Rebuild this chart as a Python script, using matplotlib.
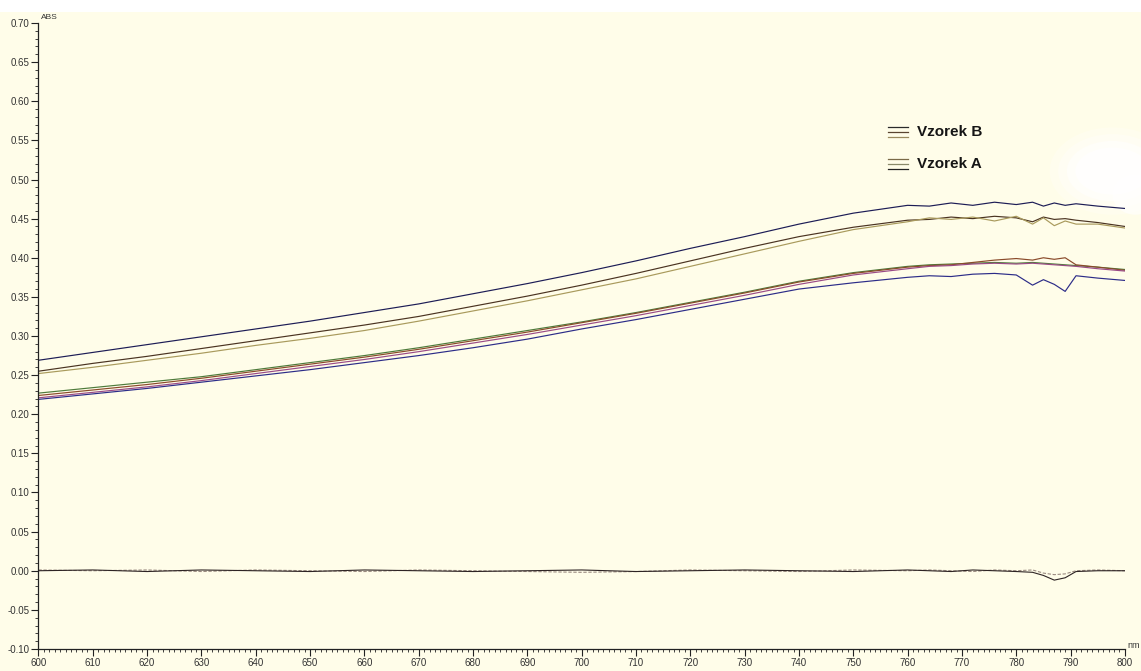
import matplotlib
matplotlib.use('Agg')
import numpy as np
import matplotlib.pyplot as plt
from matplotlib.patches import Ellipse, Rectangle
from matplotlib.ticker import MultipleLocator, FormatStrFormatter

plt.rcParams['font.family'] = ['Liberation Sans', 'DejaVu Sans']

CREAM = '#fffde9'

# wavelength grid (nm), denser where the spectra get noisy
wl = [600, 610, 620, 630, 640, 650, 660, 670, 680, 690, 700, 710, 720, 730, 740,
      750, 760, 764, 768, 772, 776, 780, 783, 785, 787, 789, 791, 795, 800]

# sample B – three repeat scans
b_scan1 = [.269, .279, .289, .299, .309, .319, .330, .341, .354, .367, .381, .396, .412, .427, .443,
           .457, .467, .466, .470, .467, .471, .468, .471, .466, .470, .467, .469, .466, .463]
b_scan2 = [.255, .265, .274, .284, .294, .304, .314, .325, .338, .351, .365, .380, .396, .412, .427,
           .439, .448, .449, .452, .450, .453, .451, .446, .452, .449, .450, .448, .445, .440]
b_scan3 = [.252, .260, .269, .278, .288, .297, .307, .319, .332, .345, .359, .373, .389, .405, .421,
           .436, .446, .451, .449, .452, .447, .453, .443, .451, .441, .447, .443, .443, .438]

# sample A – four repeat scans
a_scan1 = [.227, .234, .241, .248, .257, .266, .275, .285, .296, .307, .318, .330, .343, .356, .370,
           .381, .389, .391, .392, .393, .394, .393, .394, .393, .392, .391, .390, .388, .385]
a_scan2 = [.224, .231, .238, .246, .255, .264, .273, .283, .294, .305, .317, .329, .342, .355, .369,
           .380, .388, .390, .391, .394, .397, .399, .397, .400, .398, .400, .391, .388, .384]
a_scan3 = [.221, .228, .235, .243, .252, .261, .270, .280, .291, .302, .314, .326, .339, .352, .366,
           .378, .386, .389, .390, .392, .393, .392, .393, .392, .391, .390, .389, .386, .383]
a_scan4 = [.219, .226, .233, .241, .249, .257, .266, .275, .285, .296, .309, .321, .334, .347, .360,
           .368, .375, .377, .376, .379, .380, .378, .365, .372, .366, .357, .377, .374, .371]

# difference traces around zero
diff1 = [0, .001, -.001, .001, 0, -.001, .001, 0, -.001, 0, .001, -.001, 0, .001, 0,
         -.001, .001, 0, -.001, .001, 0, -.001, -.002, -.006, -.012, -.009, -.001, 0, 0]
diff2 = [.001, 0, .001, -.001, .001, 0, -.001, .001, 0, -.001, -.002, -.001, .001, 0, -.001,
         .001, 0, .001, 0, -.001, .001, 0, .001, -.003, -.005, -.004, 0, .001, 0]

b_colors = ['#1c1c55', '#4a3321', '#a99a5c']
a_colors = ['#4d7a3a', '#8a4a2a', '#9a4a86', '#2c2c88']

fig = plt.figure(figsize=(11.41, 6.71), dpi=100, facecolor=CREAM)
fig.patches.append(Rectangle((0, 0.982), 1, 0.02, transform=fig.transFigure,
                             facecolor='white', edgecolor='none', zorder=-2))

# washed-out patch at the upper right, built up from soft layers (kept under the traces)
for w, h, a in [(0.11, 0.13, 0.25), (0.095, 0.11, 0.35), (0.08, 0.09, 0.5), (0.065, 0.07, 0.7)]:
    fig.patches.append(Ellipse((0.975, 0.745), w, h, transform=fig.transFigure,
                               facecolor='white', edgecolor='none', alpha=a, zorder=-1))
fig.patches.append(Ellipse((0.995, 0.71), 0.04, 0.06, transform=fig.transFigure,
                           facecolor='white', edgecolor='none', alpha=0.6, zorder=-1))

ax = fig.add_axes([0.0337, 0.0328, 0.9522, 0.9329])
ax.set_facecolor('none')

for ys, c in zip([b_scan1, b_scan2, b_scan3], b_colors):
    ax.plot(wl, ys, color=c, lw=0.85)
for ys, c in zip([a_scan1, a_scan2, a_scan3, a_scan4], a_colors):
    ax.plot(wl, ys, color=c, lw=0.85)
ax.plot(wl, diff2, color='#9a8a80', lw=0.8, ls=(0, (3, 1.5)))
ax.plot(wl, diff1, color='#2e2424', lw=0.8)

ax.set_xlim(600, 800)
ax.set_ylim(-0.10, 0.70)
for s in ['top', 'right']:
    ax.spines[s].set_visible(False)
for s in ['left', 'bottom']:
    ax.spines[s].set_linewidth(0.9)
    ax.spines[s].set_color('#222222')

ax.xaxis.set_major_locator(MultipleLocator(10))
ax.xaxis.set_minor_locator(MultipleLocator(1))
ax.yaxis.set_major_locator(MultipleLocator(0.05))
ax.yaxis.set_minor_locator(MultipleLocator(0.01))
ax.yaxis.set_major_formatter(FormatStrFormatter('%.2f'))
ax.tick_params(axis='both', which='major', direction='out', length=5, width=0.8,
               color='#222222', labelsize=7, labelcolor='#333333', pad=1.5)
ax.tick_params(axis='both', which='minor', direction='out', length=2, width=0.6,
               color='#222222')

ax.text(0.002, 1.004, 'ABS', transform=ax.transAxes, fontsize=6, color='#333333',
        va='bottom', ha='left')
fig.text(0.988, 0.031, 'nm', fontsize=6.5, color='#333333', va='bottom', ha='left')

# legend: three-line glyphs next to bold labels
legend_items = [('Vzorek B', 0.826, ['#2a2a2a', '#5a4530', '#9a8a5e']),
                ('Vzorek A', 0.775, ['#7a6a48', '#8a8a6a', '#222222'])]
for label, yf, cols in legend_items:
    for off, c in zip([0.008, 0.0, -0.008], cols):
        ax.plot([0.782, 0.800], [yf + off, yf + off], color=c, lw=0.9,
                transform=ax.transAxes, clip_on=False)
    ax.text(0.809, yf, label, transform=ax.transAxes, fontsize=11, fontweight='bold',
            color='#151515', va='center', ha='left')

fig.savefig('out.png', dpi=100, facecolor=fig.get_facecolor())
